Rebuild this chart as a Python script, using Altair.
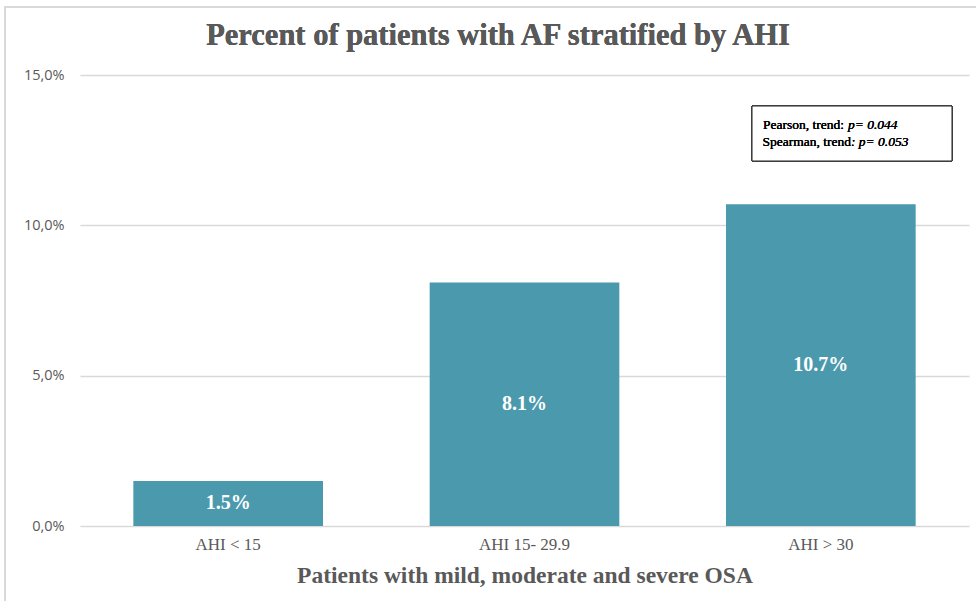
import altair as alt
import pandas as pd

categories = ["AHI < 15", "AHI 15- 29.9", "AHI > 30"]
values = [1.5, 8.1, 10.7]
labels = ["1.5%", "8.1%", "10.7%"]
y_ticks = [0, 5, 10, 15]
title_text = "Percent of patients with AF stratified by AHI"

df = pd.DataFrame({"cat": categories, "val": values, "lab": labels,
                   "half": [v / 2 for v in values]})

SERIF = "Liberation Serif"
GRAY = "#595959"
W, H = 889, 451
L, T = 80, 75

x_enc = alt.X("cat:N", sort=categories, title="Patients with mild, moderate and severe OSA",
              scale=alt.Scale(paddingInner=0.36, paddingOuter=0.18),
              axis=alt.Axis(labelAngle=0, labelFont=SERIF, labelFontSize=17, labelColor=GRAY,
                            labelPadding=10, domain=False, ticks=False,
                            titleFont=SERIF, titleFontSize=23.5, titleColor=GRAY,
                            titleFontWeight="bold", titlePadding=11))
y_scale = alt.Scale(domain=[0, 15], nice=False)

bars = alt.Chart(df).mark_bar(color="#4b99ad").encode(
    x=x_enc,
    y=alt.Y("val:Q", scale=y_scale, title=None,
            axis=alt.Axis(values=y_ticks, labelExpr="replace(format(datum.value, '.1f'), '.', ',') + '%'",
                          labelFont="Open Sans", labelFontSize=14.5, labelColor=GRAY,
                          labelPadding=16, domain=False, ticks=False,
                          grid=True, gridColor="#d9d9d9", gridWidth=1.5)),
)

text = alt.Chart(df).mark_text(font=SERIF, fontSize=20, fontWeight="bold", color="white",
                               baseline="middle").encode(
    x=alt.X("cat:N", sort=categories),
    y=alt.Y("half:Q", scale=y_scale),
    text="lab:N",
)

frame = alt.Chart(df).mark_rect(fill=None, stroke="#d9d9d9", strokeWidth=1.5).encode(
    x=alt.value(5 - L), x2=alt.value(1000 - L), y=alt.value(7 - T), y2=alt.value(640 - T))

title = alt.Chart(df).mark_text(font=SERIF, fontSize=30.5, fontWeight="bold", color=GRAY,
                                align="center", baseline="middle", text=title_text).encode(
    x=alt.value(498 - L), y=alt.value(36 - T))

box = alt.Chart(df).mark_rect(fill="white", stroke="#222222", strokeWidth=1).encode(
    x=alt.value(752 - L), x2=alt.value(952 - L), y=alt.value(106 - T), y2=alt.value(161 - T))

ann_reg = ["Pearson, trend:", "Spearman, trend"]
ann_it = ["p= 0.044", ": p= 0.053"]
ann_y = [125 - T, 142 - T]
ann_split_x = [844 - L, 851 - L]
ann_gap = [4, 0]

ann_layers = []
for reg, it, yy, sx, gap in zip(ann_reg, ann_it, ann_y, ann_split_x, ann_gap):
    ann_layers.append(
        alt.Chart(df).mark_text(font=SERIF, fontSize=13.5, fontWeight="normal", color="black",
                                align="right", baseline="middle", text=reg).encode(
            x=alt.value(sx), y=alt.value(yy)))
    ann_layers.append(
        alt.Chart(df).mark_text(font=SERIF, fontSize=13.5, fontStyle="italic", fontWeight="normal",
                                color="black", align="left", baseline="middle", text=it,
                                dx=gap).encode(
            x=alt.value(sx), y=alt.value(yy)))

chart = alt.layer(frame, title, bars, text, box, *ann_layers).properties(
    width=W, height=H,
    padding={"left": L, "top": T, "right": 976 - L - W, "bottom": 601 - T - H},
    autosize=alt.AutoSizeParams(type="none"),
).configure_view(stroke=None)

chart.save("out.html", embed_options={"renderer": "svg", "actions": False})
